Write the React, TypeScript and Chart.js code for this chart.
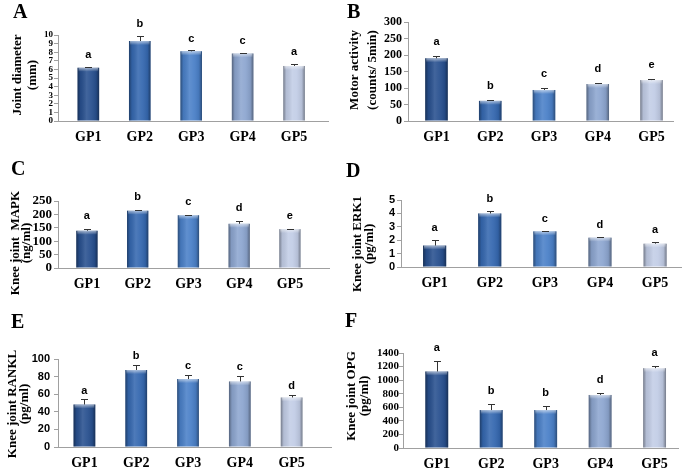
import React, { useEffect, useRef } from 'react';
import { Chart, registerables } from 'chart.js';
Chart.register(...registerables);

// ---------- data ----------
const groups = ['GP1', 'GP2', 'GP3', 'GP4', 'GP5'];

const jointDiameter = [6.2, 9.3, 8.1, 7.85, 6.4];
const jointDiameterErr = [0.12, 0.55, 0.1, 0.1, 0.2];
const jointDiameterSig = ['a', 'b', 'c', 'c', 'a'];
const jointDiameterTicks = [0, 1, 2, 3, 4, 5, 6, 7, 8, 9, 10];

const motorActivity = [190, 61, 94, 112, 124];
const motorActivityErr = [6, 4, 5, 3, 4];
const motorActivitySig = ['a', 'b', 'c', 'd', 'e'];
const motorActivityTicks = [0, 50, 100, 150, 200, 250, 300];

const mapk = [139, 214, 197, 165, 145];
const mapkErr = [6, 4, 2, 11, 2];
const mapkSig = ['a', 'b', 'c', 'd', 'e'];
const mapkTicks = [0, 50, 100, 150, 200, 250];

const erk1 = [1.6, 4.0, 2.66, 2.19, 1.74];
const erk1Err = [0.42, 0.15, 0.05, 0.05, 0.13];
const erk1Sig = ['a', 'b', 'c', 'd', 'a'];
const erk1Ticks = [0, 1, 2, 3, 4, 5];

const rankl = [48.3, 87.5, 77.2, 74.5, 56.3];
const ranklErr = [5.7, 5.7, 4.2, 5.7, 2.6];
const ranklSig = ['a', 'b', 'c', 'c', 'd'];
const ranklTicks = [0, 20, 40, 60, 80, 100];

const opg = [1128, 559, 559, 782, 1177];
const opgErr = [148, 84, 59, 34, 35];
const opgSig = ['a', 'b', 'b', 'd', 'a'];
const opgTicks = [0, 200, 400, 600, 800, 1000, 1200, 1400];

// ---------- styles ----------
const W = 685;
const H = 470;
const barColors = ['#28508f', '#3568b0', '#4a80c8', '#8da6d0', '#c2cde6'];
const axisColor = '#a0a0a0';
const SERIF = '"Liberation Serif", "Times New Roman", serif';
const SANS = '"Liberation Sans", Arial, sans-serif';

type PanelSpec = {
  letter: string;
  letterX: number;
  letterY: number;
  area: { l: number; r: number; t: number; b: number };
  xRange: [number, number];
  values: number[];
  errors: number[];
  sig: string[];
  ticks: number[];
  tickFont: { family: string; size: number };
  yPad: number;
  xPad: number;
  title: string[];
  titleX: number[];
  titleY: number;
  titleSize: number;
  sigGap: number;
};

const panels: PanelSpec[] = [
  {
    letter: 'A', letterX: 13, letterY: 18,
    area: { l: 58, r: 328, t: 35, b: 121 }, xRange: [-0.59, 4.66],
    values: jointDiameter, errors: jointDiameterErr, sig: jointDiameterSig, ticks: jointDiameterTicks,
    tickFont: { family: SERIF, size: 9 }, yPad: 1, xPad: 8,
    title: ['Joint diameter', '(mm)'], titleX: [18, 33], titleY: 75, titleSize: 13, sigGap: 12,
  },
  {
    letter: 'B', letterX: 347, letterY: 18,
    area: { l: 408, r: 673, t: 22, b: 121 }, xRange: [-0.53, 4.4],
    values: motorActivity, errors: motorActivityErr, sig: motorActivitySig, ticks: motorActivityTicks,
    tickFont: { family: SERIF, size: 12 }, yPad: 2, xPad: 8,
    title: ['Motor activity', '(counts/ 5min)'], titleX: [355, 373], titleY: 70, titleSize: 13, sigGap: 14,
  },
  {
    letter: 'C', letterX: 11, letterY: 175,
    area: { l: 58, r: 329, t: 201, b: 268 }, xRange: [-0.57, 4.77],
    values: mapk, errors: mapkErr, sig: mapkSig, ticks: mapkTicks,
    tickFont: { family: SERIF, size: 13 }, yPad: 2, xPad: 8,
    title: ['Knee joint  MAPK', '(ng/ml)'], titleX: [16, 27], titleY: 243, titleSize: 13, sigGap: 13,
  },
  {
    letter: 'D', letterX: 346, letterY: 177,
    area: { l: 401, r: 681, t: 200, b: 267 }, xRange: [-0.61, 4.47],
    values: erk1, errors: erk1Err, sig: erk1Sig, ticks: erk1Ticks,
    tickFont: { family: SANS, size: 11 }, yPad: 2, xPad: 8,
    title: ['Knee joint ERK1', '(pg/ml)'], titleX: [358, 370], titleY: 244, titleSize: 13, sigGap: 12,
  },
  {
    letter: 'E', letterX: 11, letterY: 328,
    area: { l: 58, r: 331, t: 359, b: 447 }, xRange: [-0.51, 4.76],
    values: rankl, errors: ranklErr, sig: ranklSig, ticks: ranklTicks,
    tickFont: { family: SANS, size: 11 }, yPad: 4, xPad: 8,
    title: ['Knee joint RANKL', '(pg/ml)'], titleX: [13, 25], titleY: 404, titleSize: 13, sigGap: 9,
  },
  {
    letter: 'F', letterX: 345, letterY: 327,
    area: { l: 403, r: 678, t: 353, b: 448 }, xRange: [-0.62, 4.43],
    values: opg, errors: opgErr, sig: opgSig, ticks: opgTicks,
    tickFont: { family: SERIF, size: 11 }, yPad: 0, xPad: 8,
    title: ['Knee joint OPG', '(pg/ml)'], titleX: [352, 365], titleY: 396, titleSize: 13, sigGap: 13,
  },
];

function makeDeco(p: PanelSpec) {
  return {
    id: 'deco' + p.letter,
    afterDatasetsDraw(chart: any) {
      const ctx: CanvasRenderingContext2D = chart.ctx;
      const ys = chart.scales.y;
      const meta = chart.getDatasetMeta(0);
      ctx.save();
      meta.data.forEach((el: any, i: number) => {
        const { x, y, base, width } = el.getProps(['x', 'y', 'base', 'width'], true);
        const l = x - width / 2;
        const r = x + width / 2;
        // 3D-like horizontal shading
        const g = ctx.createLinearGradient(l, 0, r, 0);
        g.addColorStop(0, 'rgba(0,0,0,0.4)');
        g.addColorStop(0.14, 'rgba(0,0,0,0.08)');
        g.addColorStop(0.42, 'rgba(255,255,255,0.12)');
        g.addColorStop(0.62, 'rgba(255,255,255,0.06)');
        g.addColorStop(0.86, 'rgba(0,0,0,0.08)');
        g.addColorStop(1, 'rgba(0,0,0,0.4)');
        ctx.fillStyle = g;
        ctx.fillRect(l, y, width, base - y);
        // top bevel
        const tg = ctx.createLinearGradient(0, y, 0, y + 4);
        tg.addColorStop(0, 'rgba(255,255,255,0.55)');
        tg.addColorStop(1, 'rgba(255,255,255,0)');
        ctx.fillStyle = tg;
        ctx.fillRect(l + 1, y, width - 2, 4);
        // error bar (upper)
        const top = ys.getPixelForValue(p.values[i] + p.errors[i]);
        ctx.strokeStyle = '#333333';
        ctx.lineWidth = 1;
        const cx = Math.round(x) + 0.5;
        const ty = Math.round(top) + 0.5;
        ctx.beginPath();
        ctx.moveTo(cx, y);
        ctx.lineTo(cx, ty);
        ctx.moveTo(cx - 3.5, ty);
        ctx.lineTo(cx + 3.5, ty);
        ctx.stroke();
        // significance letter
        ctx.fillStyle = '#000';
        ctx.font = `bold 11px ${SANS}`;
        ctx.textAlign = 'center';
        ctx.textBaseline = 'middle';
        ctx.fillText(p.sig[i], x, top - p.sigGap);
      });
      // axis title (rotated, two lines)
      ctx.font = `bold ${p.titleSize}px ${SERIF}`;
      ctx.fillStyle = '#000';
      ctx.textAlign = 'center';
      ctx.textBaseline = 'middle';
      p.title.forEach((line, k) => {
        ctx.save();
        ctx.translate(p.titleX[k], p.titleY);
        ctx.rotate(-Math.PI / 2);
        ctx.fillText(line, 0, 0);
        ctx.restore();
      });
      // panel letter
      ctx.font = `bold 20px ${SERIF}`;
      ctx.textAlign = 'left';
      ctx.textBaseline = 'alphabetic';
      ctx.fillText(p.letter, p.letterX, p.letterY);
      ctx.restore();
    },
  };
}

function PanelChart({ p }: { p: PanelSpec }) {
  const ref = useRef<HTMLCanvasElement | null>(null);
  useEffect(() => {
    if (!ref.current) return;
    const yW = 45;
    const xH = Math.min(30, H - p.area.b);
    const chart = new Chart(ref.current, {
      type: 'bar',
      data: {
        datasets: [
          {
            data: p.values.map((v, i) => ({ x: i, y: v })),
            backgroundColor: barColors,
            borderWidth: 0,
            barPercentage: 0.42,
            categoryPercentage: 1,
          },
        ],
      },
      options: {
        responsive: false,
        animation: false,
        devicePixelRatio: 1,
        layout: {
          padding: {
            left: p.area.l - yW,
            right: W - p.area.r,
            top: p.area.t,
            bottom: H - p.area.b - xH,
          },
        },
        plugins: { legend: { display: false }, tooltip: { enabled: false } },
        scales: {
          x: {
            type: 'linear',
            offset: false,
            min: p.xRange[0],
            max: p.xRange[1],
            afterBuildTicks: (s: any) => {
              s.ticks = groups.map((_, i) => ({ value: i }));
            },
            grid: { display: false, drawTicks: false, offset: false },
            border: { display: true, color: axisColor, width: 1 },
            ticks: {
              color: '#000',
              font: { family: SERIF, size: 14, weight: 'bold' },
              padding: p.xPad,
              maxRotation: 0,
              autoSkip: false,
              callback: (v: any) => groups[v] ?? '',
            },
            afterFit: (s: any) => {
              s.height = xH;
            },
          },
          y: {
            min: p.ticks[0],
            max: p.ticks[p.ticks.length - 1],
            afterBuildTicks: (s: any) => {
              s.ticks = p.ticks.map((v) => ({ value: v }));
            },
            ticks: {
              autoSkip: false,
              color: '#000',
              font: { family: p.tickFont.family, size: p.tickFont.size, weight: 'bold' },
              padding: p.yPad,
              callback: (v: any) => String(v),
            },
            grid: { drawOnChartArea: false, drawTicks: true, tickLength: 4, color: axisColor },
            border: { display: true, color: axisColor, width: 1 },
            afterFit: (s: any) => {
              s.width = yW;
            },
          },
        },
      } as any,
      plugins: [makeDeco(p)],
    });
    return () => chart.destroy();
  }, [p]);
  return (
    <canvas
      ref={ref}
      width={W}
      height={H}
      style={{ position: 'absolute', left: 0, top: 0, width: W, height: H }}
    />
  );
}

export default function App() {
  return (
    <div
      style={{
        position: 'fixed',
        left: 0,
        top: 0,
        width: W,
        height: H,
        background: '#ffffff',
        overflow: 'hidden',
      }}
    >
      {panels.map((p) => (
        <PanelChart key={p.letter} p={p} />
      ))}
    </div>
  );
}
